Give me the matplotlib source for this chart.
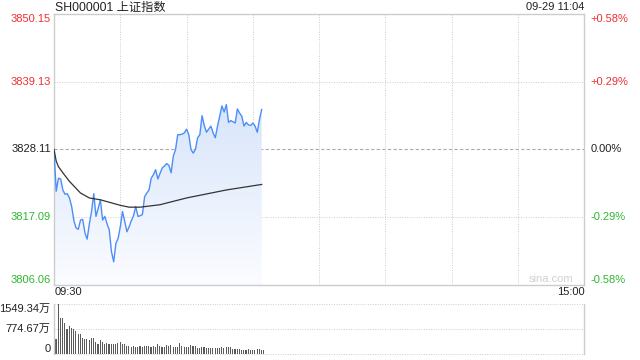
import matplotlib
matplotlib.use("Agg")
import matplotlib.pyplot as plt
import numpy as np
from matplotlib.colors import LinearSegmentedColormap

plt.rcParams['font.family'] = ['Liberation Sans', 'Noto Sans CJK SC', 'DejaVu Sans']

title = "SH000001 上证指数"
stamp = "09-29 11:04"
prevClose = 3828.11
priceTicks = [3806.06, 3817.09, 3828.11, 3839.13, 3850.15]
pctLabels = ["-0.58%", "-0.29%", "0.00%", "+0.29%", "+0.58%"]
volTicks = [0, 774.67, 1549.34]
volLabels = ["0", "774.67万", "1549.34万"]
timeLabels = ["09:30", "15:00"]
sessionMinutes = 240

# minute prices from 09:30 to 11:04
price = [3828.1, 3821.3, 3823.4, 3823.3, 3821.5, 3820.8, 3820.9, 3820.2, 3818.8, 3816.5,
         3815.3, 3815.1, 3816.6, 3816.7, 3814.5, 3813.5, 3816.0, 3818.0, 3820.9, 3817.2,
         3818.5, 3819.9, 3816.6, 3817.2, 3816.0, 3815.0, 3811.5, 3809.8, 3812.8, 3813.6,
         3815.5, 3818.0, 3816.4, 3814.7, 3815.5, 3816.5, 3817.3, 3818.8, 3817.2, 3817.3,
         3817.5, 3820.4, 3821.0, 3821.5, 3823.4, 3824.0, 3824.8, 3823.3, 3824.2, 3825.1,
         3825.4, 3825.8, 3825.5, 3824.3, 3827.0, 3828.1, 3830.5, 3830.5, 3830.6, 3830.8,
         3831.4, 3830.5, 3828.1, 3827.5, 3828.1, 3830.0, 3830.5, 3833.6, 3832.0, 3830.9,
         3831.4, 3831.9, 3830.8, 3830.0, 3831.9, 3833.5, 3835.2, 3834.2, 3835.4, 3832.5,
         3832.8, 3832.6, 3832.4, 3834.7, 3834.0, 3833.5, 3831.9, 3832.5, 3832.1, 3832.0,
         3832.4, 3831.9, 3830.9, 3833.0, 3834.6]

# average price line, read at a few minutes
avgMinute = [0, 1, 2, 4, 7, 12, 16, 21, 25, 30, 34, 39, 48, 60, 78, 94]
avgPrice = [3828.1, 3826.2, 3825.3, 3824.3, 3822.9, 3821.0, 3820.2, 3819.9, 3819.5, 3819.0,
            3818.7, 3818.7, 3819.1, 3820.2, 3821.5, 3822.4]

# minute volume (万)
volume = [474, 1549, 1106, 1106, 948, 768, 863, 821, 790, 717, 632, 632, 505, 474, 452,
          421, 505, 505, 369, 316, 442, 369, 316, 350, 295, 316, 295, 316, 340, 369,
          316, 295, 263, 263, 232, 263, 232, 232, 263, 232, 263, 240, 263, 232, 263,
          232, 316, 242, 232, 232, 284, 263, 284, 232, 211, 232, 337, 242, 211, 232,
          211, 284, 242, 242, 190, 190, 232, 232, 190, 190, 190, 190, 190, 190, 190,
          232, 190, 232, 211, 232, 169, 158, 158, 158, 126, 126, 126, 158, 126, 126,
          126, 158, 158, 126, 126]

red = "#f03030"
green = "#2eb82e"
gridColor = "#cccccc"
dots = (0, (1, 1.5))

fig = plt.figure(figsize=(6.4, 3.6), dpi=100)
ax = fig.add_axes([54/640, 1 - 284.8/360, 530.3/640, 270.8/360])
ax2 = fig.add_axes([54/640, 1 - 354/360, 530.3/640, 50/360])

minutes = np.arange(len(price))
ax.set_xlim(0, sessionMinutes)
ax.set_ylim(priceTicks[0], priceTicks[-1])

# gradient fill under the price line
poly = ax.fill_between(minutes, price, priceTicks[0], color='none', lw=0)
cmap = LinearSegmentedColormap.from_list("fade", ["#fbfcff", "#d8e5fb"])
grad = np.linspace(0, 1, 200).reshape(-1, 1)
im = ax.imshow(grad, cmap=cmap, origin='lower', aspect='auto',
               extent=[0, minutes[-1], priceTicks[0], max(price)], zorder=1)
im.set_clip_path(poly.get_paths()[0], ax.transData)

# grid
for t in priceTicks[1:-1]:
    if t == prevClose:
        ax.axhline(t, color="#aaaaaa", lw=0.8, ls=(0, (3, 2)), zorder=0)
    else:
        ax.axhline(t, color=gridColor, lw=0.7, ls=dots, zorder=0)
for m in range(30, sessionMinutes, 30):
    ax.axvline(m, color=gridColor, lw=0.7, ls=dots, zorder=0)

ax.plot(minutes, price, color="#4d8ef6", lw=1.0, zorder=3)
ax.plot(avgMinute, avgPrice, color="#333333", lw=0.9, zorder=3)

ax.set_xticks([])
ax.set_yticks([])
for s in ax.spines.values():
    s.set_color(gridColor)
    s.set_linewidth(1)

# left price labels and right percentage labels
for i, (t, lab) in enumerate(zip(priceTicks, pctLabels)):
    c = red if t > prevClose else (green if t < prevClose else "#222222")
    va = 'bottom' if i == 0 else ('top' if i == len(priceTicks) - 1 else 'center')
    ax.text(-0.006, t, f"{t:.2f}", transform=ax.get_yaxis_transform(), ha='right',
            va=va, color=c, fontsize=8)
    ax.text(1.011, t, lab, transform=ax.get_yaxis_transform(), ha='left',
            va=va, color=c, fontsize=8)

ax.text(0.002, -0.008, timeLabels[0], transform=ax.transAxes, ha='left', va='top',
        fontsize=8, color="#222222")
ax.text(1.0, -0.008, timeLabels[1], transform=ax.transAxes, ha='right', va='top',
        fontsize=8, color="#222222")
ax.text(0.979, 0.02, "sina.com", transform=ax.transAxes, ha='right', va='center',
        fontsize=8, color="#d0d0d0")

fig.text(55/640, 1 - 7.5/360, title, ha='left', va='center', fontsize=8.8, color="#222222")
fig.text(584/640, 1 - 7.5/360, stamp, ha='right', va='center', fontsize=8, color="#222222")

# volume panel
ax2.set_xlim(0, sessionMinutes)
ax2.set_ylim(0, volTicks[-1])
ax2.bar(np.arange(len(volume)) + 0.9, volume, width=0.5, color="#5a5a5a", zorder=2,
        antialiased=False)
for t in volTicks:
    ax2.axhline(t, color=gridColor, lw=0.7, ls=dots, zorder=0, clip_on=False)
ax2.set_xticks([])
ax2.set_yticks([])
for k in ['top', 'bottom']:
    ax2.spines[k].set_visible(False)
for k in ['left', 'right']:
    ax2.spines[k].set_color(gridColor)
    ax2.spines[k].set_linewidth(1)
for i, (t, lab) in enumerate(zip(volTicks, volLabels)):
    va = 'bottom' if i == 0 else ('top' if i == len(volTicks) - 1 else 'center')
    ax2.text(-0.007, t, lab, transform=ax2.get_yaxis_transform(), ha='right', va=va,
             fontsize=8, color="#222222")

fig.savefig("out.png", dpi=100)
